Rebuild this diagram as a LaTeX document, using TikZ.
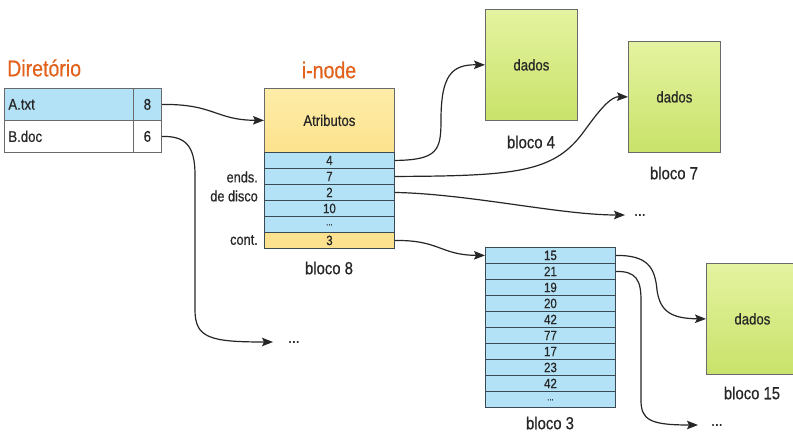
\documentclass[tikz,border=0pt]{standalone}
\usepackage{fontspec}
\setmainfont{Liberation Sans}[FakeStretch=0.85,FakeBold=0.5]
\usetikzlibrary{arrows.meta}
\definecolor{cblue}{HTML}{B3E2F6}
\definecolor{cyel}{HTML}{FCE28E}
\definecolor{cyelt}{HTML}{FEEDA8}
\definecolor{cgrt}{HTML}{E4F3A0}
\definecolor{cgrb}{HTML}{C9E26A}
\definecolor{corange}{HTML}{E2621C}
\definecolor{ctext}{HTML}{262626}
\definecolor{cline}{HTML}{3A4A55}
\definecolor{cborder}{HTML}{6A6A6A}
\newcommand\rowdots{\raisebox{-2pt}{\fontsize{9}{9}\selectfont...}}
\begin{document}
\begin{tikzpicture}[x=1pt,y=-1pt,
 every node/.style={text=ctext},
 fsz/.style={font=\fontsize{#1}{#1}\selectfont},
 title/.style={fsz=23, text=corange, inner sep=0},
 lbl/.style={fsz=17.5, inner sep=0},
 side/.style={fsz=15, anchor=east, inner sep=0},
 cell/.style={draw=cline, line width=0.9pt, fill=cblue, minimum width=130, minimum height=16, inner sep=0, anchor=north west, fsz=13.5},
 dir/.style={draw=cborder, line width=0.8pt, minimum height=32, inner sep=0, anchor=north west, fsz=15.5},
 datab/.style={draw=cborder, line width=0.8pt, top color=cgrt, bottom color=cgrb, minimum width=92, minimum height=111, inner sep=0, anchor=north west, fsz=15.5},
 arr/.style={-{Stealth[length=11pt,width=8.5pt,inset=2pt]}, line width=1.2pt, draw=ctext},
 dots/.style={fsz=16, inner sep=0, anchor=west},
]
\useasboundingbox (0,0) rectangle (793,433);
\fill[white] (0,0) rectangle (793,433);

% Directory
\node[title, anchor=west] (tdir) at (7,68) {Diretório};
\node[dir, fill=cblue, minimum width=129, text width=121, align=left] (aname) at (4,88) {A.txt};
\node[dir, fill=cblue, minimum width=28] (anum) at (133,88) {8};
\node[dir, fill=white, minimum width=129, text width=121, align=left] (bname) at (4,120) {B.doc};
\node[dir, fill=white, minimum width=28] (bnum) at (133,120) {6};

% i-node
\node[title] (tin) at (329,70) {i-node};
\node[draw=cborder, line width=0.8pt, top color=cyelt, bottom color=cyel, minimum width=130, minimum height=64, inner sep=0, anchor=north west, fsz=15.5] (attr) at (264,88) {Atributos};
\node[cell] (r4) at (264,152) {4};
\node[cell] (r7) at (264,168) {7};
\node[cell] (r2) at (264,184) {2};
\node[cell] (r10) at (264,200) {10};
\node[cell] (rdots) at (264,216) {\rowdots};
\node[cell, fill=cyel] (rcont) at (264,232) {3};
\node[side] (ends) at (258,177) {ends.};
\node[side] (disco) at (258,196) {de disco};
\node[side] (cont) at (258,240) {cont.};
\node[lbl] (b8) at (329,268) {bloco 8};

% data blocks
\node[datab] (d4) at (485,9) {dados};
\node[lbl] (l4) at (531,142) {bloco 4};
\node[datab] (d7) at (628,41) {dados};
\node[lbl] (l7) at (674,173) {bloco 7};
\node[datab] (d15) at (706,263) {dados};
\node[lbl] (l15) at (752,393) {bloco 15};

% bloco 3
\foreach \v [count=\i] in {15,21,19,20,42,77,17,23,42,\rowdots}
  \node[cell] (c\i) at (485,{247+16*(\i-1)}) {\v};
\node[lbl] (b3) at (550,423) {bloco 3};

% dots
\node[dots] (dd1) at (273,342) {\hspace{15pt}...};
\node[dots] (dd2) at (625,215) {\hspace{9pt}...};
\node[dots] (dd3) at (698,425) {\hspace{13pt}...};

% arrows
\draw[arr] (anum.east) .. controls (215,104) and (215,120) .. (attr.west);
\draw[arr] (bnum.east) .. controls (185,136) and (195,145) .. (195,175) -- (195,310) .. controls (195,338) and (210,342) .. (dd1.west);
\draw[arr] (r4.east) .. controls (438,160) and (441,150) .. (441,120) .. controls (441,75) and (452,64.5) .. (d4.west);
\draw[arr] (r7.east) .. controls (520,176) and (555,172) .. (585,130) .. controls (603,105) and (612,96.5) .. (d7.west);
\draw[arr] (r2.east) .. controls (470,194) and (560,215) .. (dd2.west);
\draw[arr] (rcont.east) .. controls (440,240) and (440,255) .. (c1.west);
\draw[arr] (c1.east) .. controls (648,255) and (655,268) .. (657,290) .. controls (660,312) and (672,318.5) .. (d15.west);
\draw[arr] (c2.east) .. controls (636,271) and (641,280) .. (641,300) -- (641,400) .. controls (641,420) and (650,425) .. (dd3.west);
\end{tikzpicture}
\end{document}
